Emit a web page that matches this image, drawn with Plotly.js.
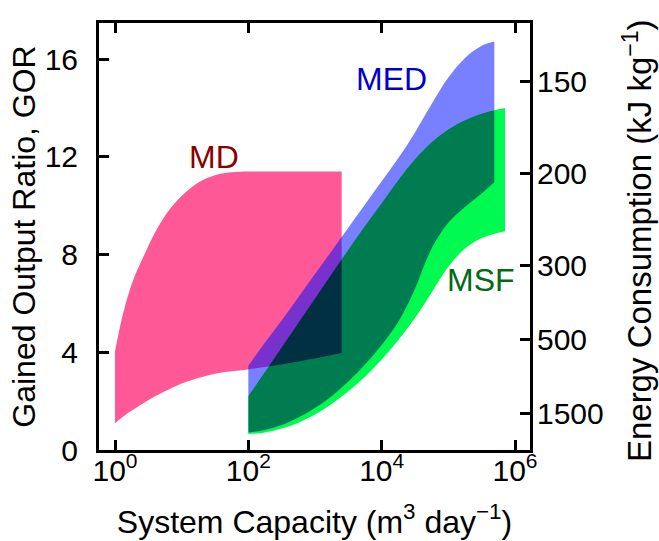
<!DOCTYPE html>
<html>
<head>
<meta charset="utf-8">
<script src="https://cdn.plot.ly/plotly-3.0.1.min.js"></script>
<style>
  html, body { margin: 0; padding: 0; background: #ffffff; }
  #chart { width: 659px; height: 541px; }
</style>
</head>
<body>
<div id="chart"></div>
<script>
// ---- data (capacity in m3/day, GOR dimensionless) ----
const mdCapacity = [1, 1.26, 1.58, 2.0, 2.82, 3.98, 6.31, 10, 17.8, 31.6, 56.2, 100, 200, 398, 794, 1585, 2512];
const mdUpper    = [4.04, 5.35, 6.35, 7.15, 8.05, 8.9, 9.78, 10.4, 10.95, 11.25, 11.37, 11.4, 11.4, 11.4, 11.4, 11.4, 11.4];
const mdLower    = [1.1, 1.32, 1.52, 1.7, 1.95, 2.2, 2.47, 2.72, 2.95, 3.12, 3.22, 3.3, 3.42, 3.55, 3.7, 3.86, 3.97];

const medCapacity = [100, 178, 316, 562, 1000, 1778, 3162, 5623, 10000, 17783, 31623, 44668, 63096, 100000, 177828, 316228, 489779];
const medUpper    = [3.45, 4.4, 5.3, 6.25, 7.2, 8.15, 9.1, 10.05, 11.0, 11.95, 13.0, 13.7, 14.4, 15.25, 16.05, 16.55, 16.72];
const medLower    = [0.72, 0.82, 1.02, 1.33, 1.72, 2.2, 2.8, 3.5, 4.3, 5.25, 6.6, 7.65, 8.5, 9.3, 9.95, 10.5, 10.96];

const msfCapacity = [100, 178, 316, 562, 1000, 1778, 3162, 5623, 10000, 17783, 31623, 56234, 100000, 177828, 316228, 707946];
const msfUpper    = [2.2, 3.2, 4.2, 5.2, 6.2, 7.2, 8.2, 9.17, 10.1, 11.05, 11.9, 12.6, 13.12, 13.5, 13.77, 14.0];
const msfLower    = [0.65, 0.72, 0.88, 1.12, 1.45, 1.88, 2.4, 3.0, 3.7, 4.5, 5.4, 6.45, 7.5, 8.25, 8.68, 8.96];

const xTickValues = [1, 100, 10000, 1000000];
const xTickLabels = ['10<sup>0</sup>', '10<sup>2</sup>', '10<sup>4</sup>', '10<sup>6</sup>'];
const gorTicks = [0, 4, 8, 12, 16];
const energyTicks = [150, 200, 300, 500, 1500];   // kJ/kg
const latentHeat = 2260;                          // kJ/kg, GOR = latentHeat / energy

const FONT = 'Liberation Sans, Arial, Helvetica, sans-serif';

// a band = invisible lower edge + upper edge filled down to it
function band(name, cap, upper, lower, fillcolor) {
  return [
    {x: cap, y: lower, type: 'scatter', mode: 'lines',
     line: {width: 0, color: 'rgba(0,0,0,0)', shape: 'spline', smoothing: 1},
     hoverinfo: 'skip', uid: name + 'lo'},
    {x: cap, y: upper, type: 'scatter', mode: 'lines', fill: 'tonexty', fillcolor: fillcolor,
     line: {width: 0, color: 'rgba(0,0,0,0)', shape: 'spline', smoothing: 1},
     hoverinfo: 'skip', uid: name + 'hi'}
  ];
}

const data = []
  .concat(band('md', mdCapacity, mdUpper, mdLower, 'rgb(255,88,150)'))
  .concat(band('med', medCapacity, medUpper, medLower, 'rgba(0,15,255,0.53)'))
  .concat(band('msf', msfCapacity, msfUpper, msfLower, 'rgb(0,250,80)'))
  .concat([{x: [], y: [], type: 'scatter', mode: 'lines', yaxis: 'y2', hoverinfo: 'skip', uid: 'dummy'}]);

const yRange = [0, 17.48];

const layout = {
  width: 659, height: 541,
  margin: {l: 99, r: 129, t: 23, b: 91, pad: 0},
  paper_bgcolor: '#ffffff', plot_bgcolor: '#ffffff',
  showlegend: false,
  font: {family: FONT, color: '#000000', size: 30},
  xaxis: {
    type: 'log', range: [-0.24, 6.225],
    tickvals: xTickValues, ticktext: xTickLabels,
    ticks: 'inside', ticklen: 10, tickwidth: 3, tickcolor: '#000000',
    showline: true, linewidth: 3, linecolor: '#000000', mirror: 'ticks',
    showgrid: false, zeroline: false,
    tickfont: {family: FONT, size: 30, color: '#000000'},
    ticklabelstandoff: -8,
    title: {text: 'System Capacity (m<sup>3</sup> day<sup>−1</sup>)',
            font: {family: FONT, size: 32, color: '#000000'}, standoff: 25}
  },
  yaxis: {
    range: yRange, tickvals: gorTicks, ticktext: gorTicks.map(String),
    ticks: 'inside', ticklen: 10, tickwidth: 3, tickcolor: '#000000',
    showline: true, linewidth: 3, linecolor: '#000000', mirror: true,
    showgrid: false, zeroline: false,
    tickfont: {family: FONT, size: 30, color: '#000000'},
    ticklabelstandoff: 12,
    title: {text: 'Gained Output Ratio, GOR',
            font: {family: FONT, size: 32, color: '#000000'}, standoff: 0}
  },
  yaxis2: {
    overlaying: 'y', side: 'right', range: yRange,
    tickvals: energyTicks.map(e => latentHeat / e), ticktext: energyTicks.map(String),
    ticks: 'inside', ticklen: 10, tickwidth: 3, tickcolor: '#000000',
    showline: false, showgrid: false, zeroline: false,
    tickfont: {family: FONT, size: 30, color: '#000000'},
    ticklabelstandoff: 6
  },
  annotations: [
    {text: 'Energy Consumption (kJ kg<sup>−1</sup>)', xref: 'paper', yref: 'paper',
     x: 1.249, y: 0.49, xanchor: 'center', yanchor: 'middle', textangle: -90, showarrow: false,
     font: {family: FONT, size: 33, color: '#000000'}},
    {text: 'MD', x: 1.485, y: 12.0, xref: 'x', yref: 'y', showarrow: false,
     xanchor: 'center', yanchor: 'middle', font: {family: FONT, size: 32, color: '#8a0000'}},
    {text: 'MED', x: 4.14, y: 15.19, xref: 'x', yref: 'y', showarrow: false,
     xanchor: 'center', yanchor: 'middle', font: {family: FONT, size: 32, color: '#0000cc'}},
    {text: 'MSF', x: 5.49, y: 6.97, xref: 'x', yref: 'y', showarrow: false,
     xanchor: 'center', yanchor: 'middle', font: {family: FONT, size: 32, color: '#006a14'}}
  ]
};

Plotly.newPlot('chart', data, layout, {staticPlot: true, displayModeBar: false}).then(function (gd) {
  ['.tracemsflo', '.tracemsfhi'].forEach(function (sel) {
    const g = gd.querySelector(sel);
    if (g) g.style.mixBlendMode = 'multiply';
  });
});
</script>
</body>
</html>
